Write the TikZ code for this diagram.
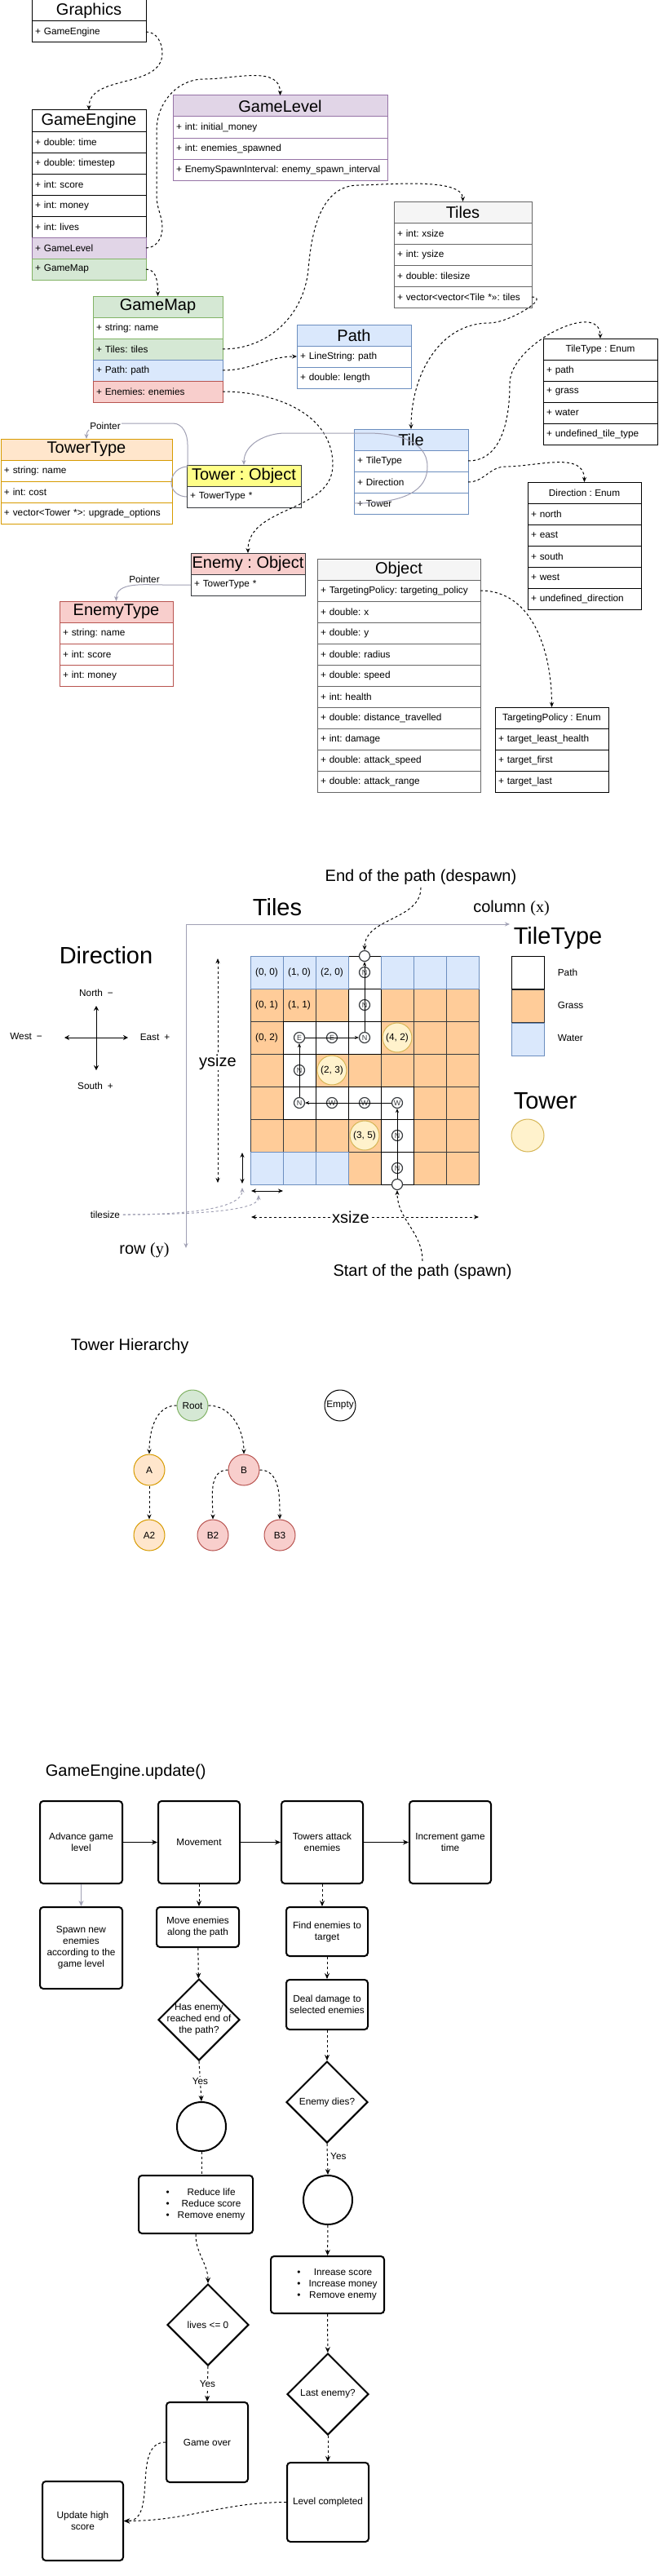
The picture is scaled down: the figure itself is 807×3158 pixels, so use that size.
\documentclass[tikz,border=0pt]{standalone}
\usepackage{fontspec}
\setmainfont{Liberation Sans}
\newfontfamily\serfont{Liberation Serif}
\frenchspacing
\usetikzlibrary{shapes,arrows.meta,positioning,calc}
\definecolor{purplefill}{HTML}{E1D5E7}
\definecolor{purpleline}{HTML}{9673A6}
\definecolor{greenfill}{HTML}{D5E8D4}
\definecolor{greenline}{HTML}{82B366}
\definecolor{bluefill}{HTML}{DAE8FC}
\definecolor{blueline}{HTML}{6C8EBF}
\definecolor{redfill}{HTML}{F8CECC}
\definecolor{redline}{HTML}{B85450}
\definecolor{orangefill}{HTML}{FFE6CC}
\definecolor{orangeline}{HTML}{D79B00}
\definecolor{greyfill}{HTML}{F5F5F5}
\definecolor{greyline}{HTML}{666666}
\definecolor{yellowfill}{HTML}{FFFF88}
\definecolor{darkline}{HTML}{36393D}
\definecolor{grassfill}{HTML}{FFCC99}
\definecolor{towerfill}{HTML}{FFF2CC}
\definecolor{towerline}{HTML}{D6B656}
\definecolor{pointergrey}{HTML}{A0A0B4}

\begin{document}
\frenchspacing
\begin{tikzpicture}[
    x=1pt, y=1pt,
    line width=1pt,
    font=\fontsize{11.8}{14}\selectfont,
    classhead/.style={draw, minimum width=#1, minimum height=26pt, inner sep=0pt,
                      outer sep=0pt, anchor=north west, font=\fontsize{20}{22}\selectfont},
    enumhead/.style={draw, minimum width=#1, minimum height=26pt, inner sep=0pt,
                     outer sep=0pt, anchor=north west},
    attrrow/.style={draw, fill=white, text width=#1, minimum height=26pt, inner xsep=4pt,
                    inner ysep=0pt, outer sep=0pt, align=left},
    assoc/.style={dash pattern=on 3pt off 3pt, -{Stealth[length=6pt,width=5pt]}},
    pointer/.style={pointergrey, -{Stealth[length=6pt,width=5pt]}},
    ptrlabel/.style={fill=white, inner sep=1pt},
    bigtitle/.style={font=\fontsize{29}{32}\selectfont},
    midtitle/.style={font=\fontsize{20}{24}\selectfont},
    grasscell/.style={fill=grassfill, draw=darkline},
    pathcell/.style={fill=white, draw=black},
    watercell/.style={fill=bluefill, draw=blueline},
    towerdot/.style={circle, fill=towerfill, draw=towerline, minimum size=36pt, inner sep=0pt},
    pathdot/.style={circle, draw=darkline, line width=1.2pt, minimum size=13pt, inner sep=0pt,
                    font=\fontsize{9}{9}\selectfont, text=darkline},
    walk/.style={-{Stealth[length=5pt,width=4pt]}, line width=0.8pt},
    compass/.style={-{Stealth[length=6pt,width=6pt]}},
    dimdash/.style={dash pattern=on 3pt off 3pt,
                    {Stealth[length=6pt,width=5pt]}-{Stealth[length=6pt,width=5pt]}},
    dimsolid/.style={{Stealth[length=6pt,width=5pt]}-{Stealth[length=6pt,width=5pt]}},
    hintarr/.style={pointergrey, dash pattern=on 3pt off 3pt, -{Stealth[length=6pt,width=5pt]}},
    treenode/.style={circle, draw, minimum size=38pt, inner sep=0pt},
    procbox/.style={draw, rounded corners=4pt, line width=2pt, align=center, inner sep=2pt},
    decision/.style={diamond, draw, line width=2pt, minimum width=100pt, minimum height=100pt,
                     inner sep=0pt, align=center},
    flowarr/.style={-{Stealth[length=7pt,width=6pt]}},
    flowdash/.style={dash pattern=on 3pt off 3pt, -{Stealth[length=7pt,width=6pt]}}
]
\path[use as bounding box, fill=white] (0,0) rectangle (807,-3158);

% class diagram
\node[classhead=140pt] (gfx) at (39,0) {Graphics};
\node[attrrow=132pt, below=0pt of gfx] (gfx-eng) {+ GameEngine};

\node[classhead=140pt] (eng) at (39,-135) {GameEngine};
\node[attrrow=132pt, below=0pt of eng] (eng-time) {+ double: time};
\node[attrrow=132pt, below=0pt of eng-time] (eng-step) {+ double: timestep};
\node[attrrow=132pt, below=0pt of eng-step] (eng-score) {+ int: score};
\node[attrrow=132pt, below=0pt of eng-score] (eng-money) {+ int: money};
\node[attrrow=132pt, below=0pt of eng-money] (eng-lives) {+ int: lives};
\node[attrrow=132pt, below=0pt of eng-lives, fill=purplefill, draw=purpleline] (eng-lvl) {+ GameLevel};
\node[attrrow=132pt, below=0pt of eng-lvl, fill=greenfill, draw=greenline] (eng-map) {+ GameMap};

\node[classhead=263pt, fill=purplefill, draw=purpleline] (lvl) at (212,-117) {GameLevel};
\node[attrrow=255pt, draw=purpleline, below=0pt of lvl] (lvl-money) {+ int: initial\_money};
\node[attrrow=255pt, draw=purpleline, below=0pt of lvl-money] (lvl-spawned) {+ int: enemies\_spawned};
\node[attrrow=255pt, draw=purpleline, below=0pt of lvl-spawned] (lvl-interval) {+ EnemySpawnInterval: enemy\_spawn\_interval};

\node[classhead=159pt, fill=greenfill, draw=greenline] (map) at (114,-363) {GameMap};
\node[attrrow=151pt, draw=greenline, below=0pt of map] (map-name) {+ string: name};
\node[attrrow=151pt, fill=greenfill, draw=greenline, below=0pt of map-name] (map-tiles) {+ Tiles: tiles};
\node[attrrow=151pt, fill=bluefill, draw=blueline, below=0pt of map-tiles] (map-path) {+ Path: path};
\node[attrrow=151pt, fill=redfill, draw=redline, below=0pt of map-path] (map-enemies) {+ Enemies: enemies};

\node[classhead=169pt, fill=greyfill, draw=greyline] (tiles) at (483,-247) {Tiles};
\node[attrrow=161pt, draw=greyline, below=0pt of tiles] (tiles-x) {+ int: xsize};
\node[attrrow=161pt, draw=greyline, below=0pt of tiles-x] (tiles-y) {+ int: ysize};
\node[attrrow=161pt, draw=greyline, below=0pt of tiles-y] (tiles-size) {+ double: tilesize};
\node[attrrow=161pt, draw=greyline, below=0pt of tiles-size] (tiles-vec) {+ vector<vector<Tile *>>: tiles};

\node[classhead=140pt, fill=bluefill, draw=blueline] (path) at (364,-398) {Path};
\node[attrrow=132pt, draw=blueline, below=0pt of path] (path-line) {+ LineString: path};
\node[attrrow=132pt, draw=blueline, below=0pt of path-line] (path-len) {+ double: length};

\node[classhead=140pt, fill=bluefill, draw=blueline] (tile) at (434,-526) {Tile};
\node[attrrow=132pt, draw=blueline, below=0pt of tile] (tile-type) {+ TileType};
\node[attrrow=132pt, draw=blueline, below=0pt of tile-type] (tile-dir) {+ Direction};
\node[attrrow=132pt, draw=blueline, below=0pt of tile-dir] (tile-tower) {+ Tower};

\node[enumhead=140pt] (ttype) at (666,-415) {TileType : Enum};
\node[attrrow=132pt, below=0pt of ttype] (ttype-path) {+ path};
\node[attrrow=132pt, below=0pt of ttype-path] (ttype-grass) {+ grass};
\node[attrrow=132pt, below=0pt of ttype-grass] (ttype-water) {+ water};
\node[attrrow=132pt, below=0pt of ttype-water] (ttype-undef) {+ undefined\_tile\_type};

\node[classhead=210pt, fill=orangefill, draw=orangeline] (towertype) at (1,-538) {TowerType};
\node[attrrow=202pt, draw=orangeline, below=0pt of towertype] (towertype-name) {+ string: name};
\node[attrrow=202pt, draw=orangeline, below=0pt of towertype-name] (towertype-cost) {+ int: cost};
\node[attrrow=202pt, draw=orangeline, below=0pt of towertype-cost] (towertype-up) {+ vector<Tower *>: upgrade\_options};

\node[classhead=140pt, fill=yellowfill, draw=darkline] (tower) at (229,-570) {Tower : Object};
\node[attrrow=132pt, draw=darkline, below=0pt of tower] (tower-type) {+ TowerType *};

\node[classhead=140pt, fill=redfill, draw=darkline] (enemy) at (234,-678) {Enemy : Object};
\node[attrrow=132pt, draw=darkline, below=0pt of enemy] (enemy-type) {+ TowerType *};

\node[classhead=139pt, fill=redfill, draw=redline] (enemytype) at (73,-737) {EnemyType};
\node[attrrow=131pt, draw=redline, below=0pt of enemytype] (enemytype-name) {+ string: name};
\node[attrrow=131pt, draw=redline, below=0pt of enemytype-name] (enemytype-score) {+ int: score};
\node[attrrow=131pt, draw=redline, below=0pt of enemytype-score] (enemytype-money) {+ int: money};

\node[enumhead=139pt] (dir) at (647,-591) {Direction : Enum};
\node[attrrow=131pt, below=0pt of dir] (dir-n) {+ north};
\node[attrrow=131pt, below=0pt of dir-n] (dir-e) {+ east};
\node[attrrow=131pt, below=0pt of dir-e] (dir-s) {+ south};
\node[attrrow=131pt, below=0pt of dir-s] (dir-w) {+ west};
\node[attrrow=131pt, below=0pt of dir-w] (dir-u) {+ undefined\_direction};

\node[classhead=200pt, fill=greyfill, draw=greyline] (obj) at (389,-685) {Object};
\node[attrrow=192pt, draw=greyline, below=0pt of obj] (obj-policy) {+ TargetingPolicy: targeting\_policy};
\node[attrrow=192pt, draw=greyline, below=0pt of obj-policy] (obj-x) {+ double: x};
\node[attrrow=192pt, draw=greyline, below=0pt of obj-x] (obj-y) {+ double: y};
\node[attrrow=192pt, draw=greyline, below=0pt of obj-y] (obj-radius) {+ double: radius};
\node[attrrow=192pt, draw=greyline, below=0pt of obj-radius] (obj-speed) {+ double: speed};
\node[attrrow=192pt, draw=greyline, below=0pt of obj-speed] (obj-health) {+ int: health};
\node[attrrow=192pt, draw=greyline, below=0pt of obj-health] (obj-dist) {+ double: distance\_travelled};
\node[attrrow=192pt, draw=greyline, below=0pt of obj-dist] (obj-damage) {+ int: damage};
\node[attrrow=192pt, draw=greyline, below=0pt of obj-damage] (obj-aspeed) {+ double: attack\_speed};
\node[attrrow=192pt, draw=greyline, below=0pt of obj-aspeed] (obj-arange) {+ double: attack\_range};

\node[enumhead=139pt] (policy) at (607,-867) {TargetingPolicy : Enum};
\node[attrrow=131pt, below=0pt of policy] (policy-health) {+ target\_least\_health};
\node[attrrow=131pt, below=0pt of policy-health] (policy-first) {+ target\_first};
\node[attrrow=131pt, below=0pt of policy-first] (policy-last) {+ target\_last};

\draw[assoc] (gfx-eng.east) to[out=0,in=90] (199,-65) to[out=-90,in=90] (eng.north);
\draw[assoc] (eng-lvl.east) to[out=0,in=-90] (199,-280) to[out=90,in=-90] (192,-240) -- (192,-160)
    to[out=90,in=180] (250,-97) to[out=0,in=90] (lvl.north);
\draw[assoc] (eng-map.east) to[out=0,in=90] (map.north);
\draw[assoc] (map-tiles.east) to[out=0,in=-95] (378,-330) to[out=85,in=180] (440,-227)
    to[out=0,in=90, looseness=0.6] (tiles.north);
\draw[assoc] (map-path.east) to[out=0,in=180] (path-line.west);
\draw[assoc] (map-enemies.east) to[out=0,in=90] (408,-570) to[out=-90,in=90] (enemy.north);
\draw[assoc] (tiles-vec.east) to[out=0,in=0] (600,-396) to[out=180,in=90] (tile.north);
\draw[assoc] (tile-type.east) to[out=0,in=-90] (625,-470) to[out=90,in=90] (ttype.north);
\draw[assoc] (tile-dir.east) to[out=0,in=180] (620,-572) to[out=0,in=90] (dir.north);
\draw[assoc] (obj-policy.east) to[out=0,in=90] (policy.north);

\draw[pointer] (tile-tower.west) to[out=0,in=-90] (524,-572) to[out=90,in=0] (450,-531)
    -- (350,-531) to[out=180,in=90] (tower.north);
\draw[pointer] (tower-type.west) to[out=180,in=-90] (210,-592) to[out=90,in=180] (230,-572)
    -- (230,-545) to[out=90,in=0] (212,-519) -- (150,-519) to[out=180,in=90] (towertype.north);
\node[ptrlabel] (ptr-tower) at (129,-522) {Pointer};
\draw[pointer] (enemy-type.west) -- (200,-717) to[out=180,in=90] (enemytype.north);
\node[ptrlabel] (ptr-enemy) at (177,-710) {Pointer};

% direction
\node[bigtitle] (dirtitle) at (130,-1171) {Direction};
\coordinate (dirc) at (118,-1272);
\coordinate (dirn) at (118,-1233);
\coordinate (dirs) at (118,-1312);
\coordinate (dirw) at (79,-1272);
\coordinate (dire) at (157,-1272);
\draw[compass] (dirc) -- (dirn);
\draw[compass] (dirc) -- (dirs);
\draw[compass] (dirc) -- (dirw);
\draw[compass] (dirc) -- (dire);
\node (north) at (118,-1217) {North\enspace −};
\node (south) at (117,-1331) {South\enspace +};
\node (west) at (32,-1270) {West\enspace −};
\node (east) at (190,-1271) {East\enspace +};

% tiles
\node[bigtitle] (tilestitle) at (340,-1112) {Tiles};
\coordinate (axo) at (228,-1133);
\coordinate (axx) at (625,-1133);
\coordinate (axy) at (228,-1530);
\draw[pointer] (axo) -- (axx);
\draw[pointer] (axo) -- (axy);
\node[midtitle] (colx) at (627,-1113) {column {\serfont(x)}};
\node[midtitle] (rowy) at (177,-1533) {row {\serfont(y)}};

\begin{scope}[shift={(307,-1172)}]
  \foreach \cx in {0,...,6}
    \foreach \ry in {0,...,6}
      \draw[grasscell] (40*\cx,-40*\ry) rectangle ++(40,-40);
  \foreach \cx/\ry in {3/0,3/1,1/2,2/2,3/2,1/3,1/4,2/4,3/4,4/4,4/5,4/6}
    \draw[pathcell] (40*\cx,-40*\ry) rectangle ++(40,-40);
  \foreach \cx/\ry in {0/0,1/0,2/0,4/0,5/0,6/0,0/6,1/6,2/6}
    \draw[watercell] (40*\cx,-40*\ry) rectangle ++(40,-40);
  \foreach \cx/\ry in {0/0,1/0,2/0,0/1,1/1,0/2}
    \node (cell\cx\ry) at (40*\cx+20,-40*\ry-20) {(\cx, \ry)};
\end{scope}

\node[towerdot] (t42) at (487,-1272) {(4, 2)};
\node[towerdot] (t23) at (407,-1312) {(2, 3)};
\node[towerdot] (t35) at (447,-1392) {(3, 5)};

\node[pathdot, fill=white] (spawnpt) at (487,-1452) {};
\node[pathdot] (m46) at (487,-1432) {N};
\node[pathdot] (m45) at (487,-1392) {N};
\node[pathdot] (m44) at (487,-1352) {W};
\node[pathdot] (m34) at (447,-1352) {W};
\node[pathdot] (m24) at (407,-1352) {W};
\node[pathdot] (m14) at (367,-1352) {N};
\node[pathdot] (m13) at (367,-1312) {N};
\node[pathdot] (m12) at (367,-1272) {E};
\node[pathdot] (m22) at (407,-1272) {E};
\node[pathdot] (m32) at (447,-1272) {N};
\node[pathdot] (m31) at (447,-1232) {N};
\node[pathdot] (m30) at (447,-1192) {N};
\node[pathdot, fill=white] (despawnpt) at (447,-1172) {};
\draw[walk] (spawnpt) -- (m44);
\draw[walk] (m44) -- (m14);
\draw[walk] (m14) -- (m12);
\draw[walk] (m12) -- (m32);
\draw[walk] (m32) -- (despawnpt);

\node[midtitle] (despawn) at (516,-1075) {End of the path (despawn)};
\node[midtitle] (spawn) at (518,-1559) {Start of the path (spawn)};
\draw[assoc] (despawn.south) to[out=-90,in=90] (despawnpt.north);
\draw[assoc] (spawn.north) to[out=90,in=-90] (spawnpt.south);

\coordinate (ys1) at (267,-1175);
\coordinate (ys2) at (267,-1450);
\draw[dimdash] (ys1) -- (ys2);
\node[midtitle, fill=white, inner sep=1pt] (ysize) at (267,-1302) {ysize};
\coordinate (xs1) at (308,-1492);
\coordinate (xs2) at (587,-1492);
\draw[dimdash] (xs1) -- (xs2);
\node[midtitle, fill=white, inner sep=1pt] (xsize) at (430,-1492) {xsize};
\coordinate (tsv1) at (297,-1413);
\coordinate (tsv2) at (297,-1451);
\coordinate (tsh1) at (308,-1460);
\coordinate (tsh2) at (347,-1460);
\draw[dimsolid] (tsv1) -- (tsv2);
\draw[dimsolid] (tsh1) -- (tsh2);
\node (tsize) at (129,-1489) {tilesize};
\coordinate (tsv3) at (297,-1456);
\coordinate (tsh3) at (317,-1465);
\draw[hintarr] (tsize.east) .. controls (240,-1489) and (297,-1480) .. (tsv3);
\draw[hintarr] (tsize.east) .. controls (260,-1489) and (317,-1482) .. (tsh3);

% legend
\node[bigtitle, anchor=west] (ttitle) at (626,-1150) {TileType};
\node[pathcell, minimum size=40pt, inner sep=0pt, anchor=north west] (leg-path) at (627,-1172) {};
\node[grasscell, minimum size=40pt, inner sep=0pt, below=0pt of leg-path] (leg-grass) {};
\node[watercell, minimum size=40pt, inner sep=0pt, below=0pt of leg-grass] (leg-water) {};
\node[anchor=west] (leg-path-txt) at (680,-1192) {Path};
\node[anchor=west] (leg-grass-txt) at (680,-1232) {Grass};
\node[anchor=west] (leg-water-txt) at (680,-1272) {Water};
\node[bigtitle, anchor=west] (towertitle) at (626,-1350) {Tower};
\node[towerdot, minimum size=40pt] (leg-tower) at (647,-1392) {};

% tower hierarchy
\node[midtitle, anchor=west] (hiertitle) at (83,-1650) {Tower Hierarchy};
\node[treenode, fill=greenfill, draw=greenline] (root) at (236,-1723) {Root};
\node[treenode] (empty) at (417,-1723) {Empty};
\node[treenode, fill=orangefill, draw=orangeline] (ta) at (183,-1802) {A};
\node[treenode, fill=redfill, draw=redline] (tb) at (299,-1802) {B};
\node[treenode, fill=orangefill, draw=orangeline] (ta2) at (183,-1882) {A2};
\node[treenode, fill=redfill, draw=redline] (tb2) at (261,-1882) {B2};
\node[treenode, fill=redfill, draw=redline] (tb3) at (343,-1882) {B3};
\draw[assoc] (root.west) to[out=180,in=90] (ta.north);
\draw[assoc] (root.east) to[out=0,in=90] (tb.north);
\draw[assoc] (ta) -- (ta2);
\draw[assoc] (tb.west) to[out=180,in=90] (tb2.north);
\draw[assoc] (tb.east) to[out=0,in=90] (tb3.north);

% update loop
\node[midtitle, anchor=west] (looptitle) at (52,-2172) {GameEngine.update()};
\node[procbox, minimum width=101pt, minimum height=101pt] (advance) at (99.5,-2258.5) {Advance game\\level};
\node[procbox, minimum width=100pt, minimum height=101pt] (movement) at (244,-2258.5) {Movement};
\node[procbox, minimum width=100pt, minimum height=101pt] (attack) at (395,-2258.5) {Towers attack\\enemies};
\node[procbox, minimum width=100pt, minimum height=101pt] (inctime) at (552,-2258.5) {Increment game\\time};
\draw[flowarr] (advance) -- (movement);
\draw[flowarr] (movement) -- (attack);
\draw[flowarr] (attack) -- (inctime);

\node[procbox, minimum width=101pt, minimum height=100pt] (spawnbox) at (99.5,-2388) {Spawn new\\enemies\\according to the\\game level};
\draw[flowarr, pointergrey] (advance) -- (spawnbox);

\node[procbox, minimum width=101pt, minimum height=49pt] (moveenemies) at (242.5,-2362.5) {Move enemies\\along the path};
\node[decision, inner sep=-12pt] (reached) at (244,-2476) {Has enemy\\reached end of\\the path?};
\node[circle, draw, line width=2pt, minimum size=60pt] (endcircle) at (247,-2607) {};
\node[procbox, minimum width=140pt, minimum height=71pt] (reduce) at (240,-2702.5)
    {\begin{tabular}{@{\hspace{24pt}}c@{\hspace{10pt}}c@{}}\textbullet & Reduce life\\ \textbullet & Reduce score\\ \textbullet & Remove enemy\end{tabular}};
\node[decision] (lives) at (255,-2850) {lives <= 0};
\node[procbox, minimum width=100pt, minimum height=98pt] (gameover) at (254,-2994) {Game over};
\node[procbox, minimum width=99pt, minimum height=97pt] (highscore) at (101.5,-3090.5) {Update high\\score};
\draw[flowdash] (movement) -- (movement |- moveenemies.north);
\draw[flowdash] (moveenemies) -- (reached);
\draw[flowdash] (reached.south) -- node[fill=white, inner sep=1pt] {Yes} (endcircle.north);
\draw[dash pattern=on 3pt off 3pt] (endcircle.south) -- (endcircle.south |- reduce.north);
\draw[flowdash] (reduce.south) to[out=-90,in=90] (lives.north);
\draw[flowdash] (lives.south) -- node[fill=white, inner sep=1pt] {Yes} (gameover.north);
\draw[flowdash] (gameover.west) to[out=180,in=0] (highscore.east);

\node[procbox, minimum width=100pt, minimum height=60pt] (findtarget) at (401,-2368) {Find enemies to\\target};
\node[procbox, minimum width=100pt, minimum height=61pt] (damage) at (401,-2457.5) {Deal damage to\\selected enemies};
\node[decision] (dies) at (401,-2577) {Enemy dies?};
\node[circle, draw, line width=2pt, minimum size=60pt] (killcircle) at (402,-2697) {};
\node[procbox, minimum width=139pt, minimum height=70pt] (reward) at (401.5,-2801)
    {\begin{tabular}{@{\hspace{24pt}}c@{\hspace{10pt}}c@{}}\textbullet & Inrease score\\ \textbullet & Increase money\\ \textbullet & Remove enemy\end{tabular}};
\node[decision] (lastenemy) at (402,-2935) {Last enemy?};
\node[procbox, minimum width=100pt, minimum height=97pt] (leveldone) at (402,-3067.5) {Level completed};
\draw[flowdash] (attack) -- (attack |- findtarget.north);
\draw[flowdash] (findtarget) -- (damage);
\draw[flowdash] (damage) -- (dies);
\draw[flowdash] (dies.south) -- node[right, pos=0.4] {Yes} (killcircle.north);
\draw[flowdash] (killcircle) -- (reward);
\draw[flowdash] (reward) -- (lastenemy);
\draw[flowdash] (lastenemy) -- (leveldone);
\draw[flowdash] (leveldone.west) to[out=180,in=0] (highscore.east);
\end{tikzpicture}
\end{document}
